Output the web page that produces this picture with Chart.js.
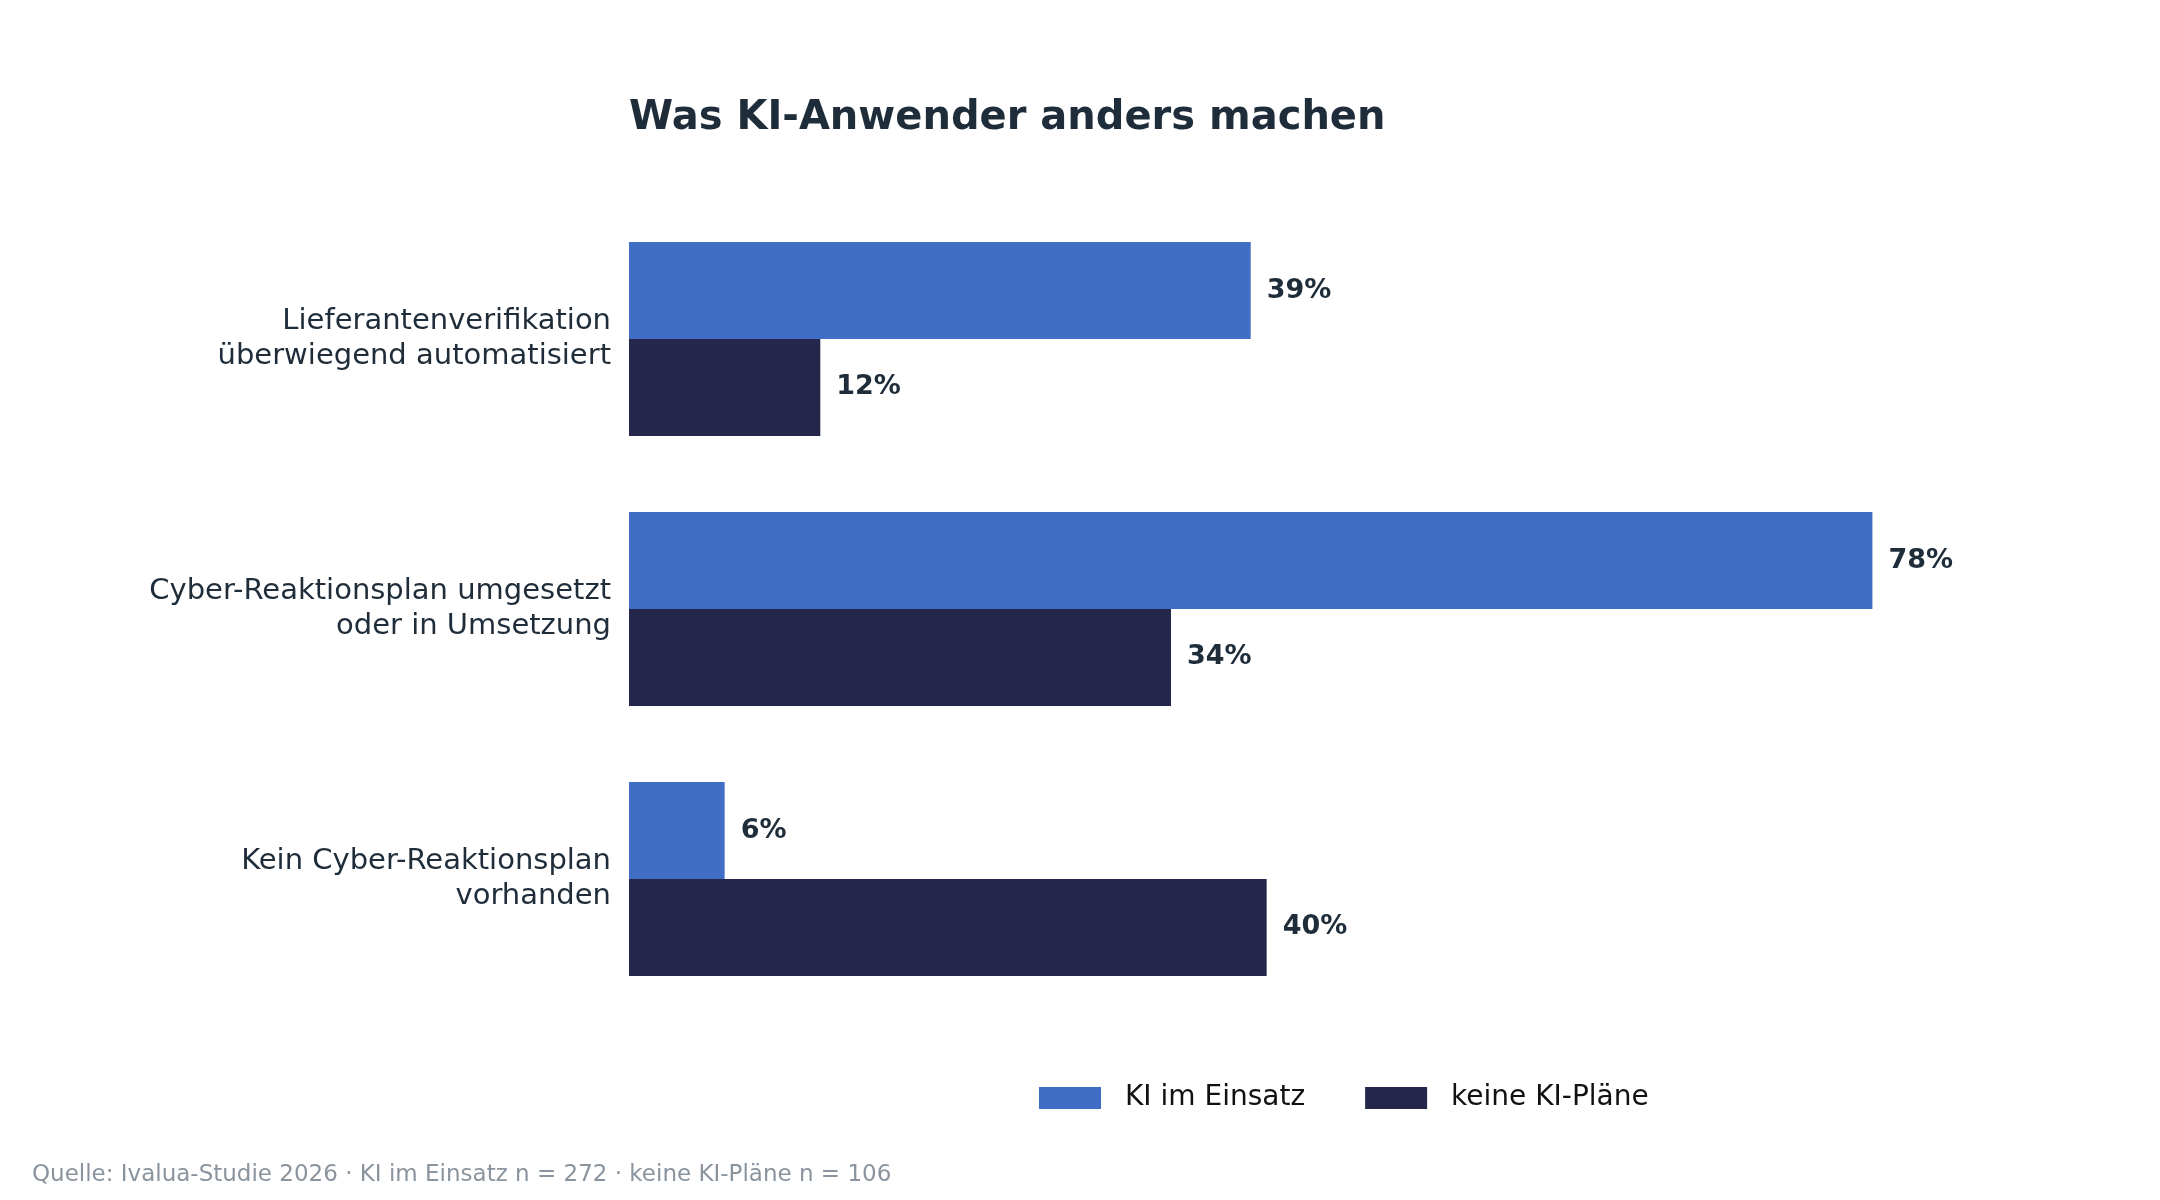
<!DOCTYPE html>
<html><head><meta charset="utf-8">
<script src="https://cdn.jsdelivr.net/npm/chart.js@4"></script>
<style>html,body{margin:0;background:#fff}#c{display:block}</style>
</head><body>
<canvas id="c" width="2160" height="1200"></canvas>
<script>
const categories = [
  ["Lieferantenverifikation", "überwiegend automatisiert"],
  ["Cyber-Reaktionsplan umgesetzt", "oder in Umsetzung"],
  ["Kein Cyber-Reaktionsplan", "vorhanden"]
];
const seriesNames = ["KI im Einsatz", "keine KI-Pläne"];
const kiEinsatz = [39, 78, 6];
const keinePlaene = [12, 34, 40];
const colors = ["#416ec5", "#24274b"];
const FONT = "'DejaVu Sans', sans-serif";

// draw title, value labels, legend and source note on top of the chart
const extras = {
  id: "extras",
  afterDraw(chart) {
    const ctx = chart.ctx, area = chart.chartArea;
    ctx.save();
    ctx.fillStyle = "#1f2d3a";
    ctx.font = "bold 40px " + FONT;
    ctx.textBaseline = "middle";
    ctx.textAlign = "left";
    ctx.fillText("Was KI-Anwender anders machen", area.left, 119);

    ctx.font = "bold 27px " + FONT;
    chart.data.datasets.forEach((ds, i) => {
      chart.getDatasetMeta(i).data.forEach((bar, j) => {
        ctx.fillText(ds.data[j] + "%", bar.x + 16, bar.y);
      });
    });

    // legend
    ctx.font = "28px " + FONT;
    let x = 1039;
    const y = 1098;
    seriesNames.forEach((name, i) => {
      ctx.fillStyle = colors[i];
      ctx.fillRect(x, y - 11, 62, 22);
      ctx.fillStyle = "#111";
      ctx.fillText(name, x + 86, y);
      x += 86 + ctx.measureText(name).width + 60;
    });

    ctx.font = "23px " + FONT;
    ctx.fillStyle = "#8a949e";
    ctx.fillText("Quelle: Ivalua-Studie 2026 · KI im Einsatz n = 272 · keine KI-Pläne n = 106", 32, 1175);
    ctx.restore();
  }
};

new Chart(document.getElementById("c"), {
  type: "bar",
  data: {
    labels: categories,
    datasets: [
      { label: seriesNames[0], data: kiEinsatz, backgroundColor: colors[0] },
      { label: seriesNames[1], data: keinePlaene, backgroundColor: colors[1] }
    ]
  },
  options: {
    indexAxis: "y",
    responsive: false,
    animation: false,
    devicePixelRatio: 1,
    layout: { padding: { left: 0, right: 176, top: 204, bottom: 186 } },
    categoryPercentage: 0.718,
    barPercentage: 1,
    scales: {
      x: { display: false, min: 0, max: 85 },
      y: {
        grid: { display: false },
        border: { display: false },
        ticks: { color: "#1f2d3a", font: { family: FONT, size: 29 }, padding: 10 },
        afterFit(scale) { scale.width = 629; }
      }
    },
    plugins: { legend: { display: false }, tooltip: { enabled: false } }
  },
  plugins: [extras]
});
</script>
</body></html>
